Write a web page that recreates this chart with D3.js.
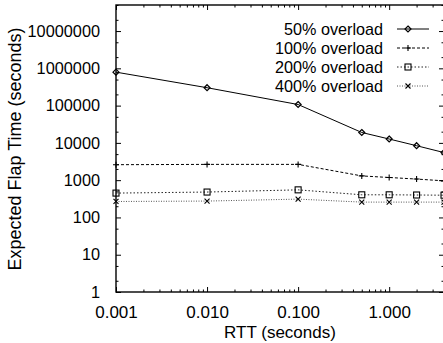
<!DOCTYPE html>
<html><head><meta charset="utf-8">
<script src="https://cdn.jsdelivr.net/npm/d3@7"></script>
<style>
html,body{margin:0;padding:0;background:#fff;}
svg{display:block;font-family:"Liberation Sans",Arial,Helvetica,sans-serif;}
</style></head>
<body><svg id="c" width="443" height="343"></svg>
<script>
const rtt = [0.001, 0.01, 0.1, 0.5, 1, 2, 4];
const overload50 = [790000, 302000, 107000, 19000, 12700, 8400, 5500];
const overload100 = [2600, 2650, 2650, 1300, 1180, 1070, 960];
const overload200 = [450, 480, 550, 405, 405, 400, 395];
const overload400 = [268, 275, 310, 258, 258, 258, 258];
const seriesNames = ["50% overload", "100% overload", "200% overload", "400% overload"];
const xTicks = [0.001, 0.01, 0.1, 1];
const xTickLabels = ["0.001", "0.010", "0.100", "1.000"];
const yTicks = [1, 10, 100, 1000, 10000, 100000, 1000000, 10000000];
const yTickLabels = ["1", "10", "100", "1000", "10000", "100000", "1000000", "10000000"];

const L = 116, R = 444, T = 5, B = 292;
const svg = d3.select("#c");
const x = d3.scaleLog().domain([0.001, 4]).range([L, R]);
const y = d3.scaleLog().domain([1, 5e7]).range([B, T]);

const xMinor = [];
for (let e = -3; e <= 0; e++) for (let k = 2; k <= 9; k++) { const v = k * Math.pow(10, e); if (v <= 4) xMinor.push(v); }
const yMinor = [];
for (let e = 0; e <= 7; e++) for (const k of [2, 5]) { const v = k * Math.pow(10, e); if (v <= 5e7) yMinor.push(v); }

function styleAxis(g) { g.select(".domain").remove(); g.selectAll("line").attr("stroke", "#000").attr("stroke-width", 1); }

svg.append("g").attr("transform", `translate(0,${B})`)
  .call(d3.axisBottom(x).tickValues(xTicks).tickSize(-5).tickPadding(14).tickFormat((d, i) => xTickLabels[i]))
  .call(styleAxis)
  .call(g => g.selectAll("text").attr("font-size", 17).attr("fill", "#000").attr("font-family", "Liberation Sans, Arial, sans-serif"));
svg.append("g").attr("transform", `translate(0,${B})`)
  .call(d3.axisBottom(x).tickValues(xMinor).tickSize(-2.5).tickFormat(""))
  .call(styleAxis);
svg.append("g").attr("transform", `translate(0,${T})`)
  .call(d3.axisTop(x).tickValues(xTicks).tickSize(-5).tickFormat(""))
  .call(styleAxis);
svg.append("g").attr("transform", `translate(0,${T})`)
  .call(d3.axisTop(x).tickValues(xMinor).tickSize(-2.5).tickFormat(""))
  .call(styleAxis);

svg.append("g").attr("transform", `translate(${L},0)`)
  .call(d3.axisLeft(y).tickValues(yTicks).tickSize(-5).tickPadding(16).tickFormat((d, i) => yTickLabels[i]))
  .call(styleAxis)
  .call(g => g.selectAll("text").attr("font-size", 16.3).attr("fill", "#000").attr("font-family", "Liberation Sans, Arial, sans-serif"));
svg.append("g").attr("transform", `translate(${L},0)`)
  .call(d3.axisLeft(y).tickValues(yMinor).tickSize(-2.5).tickFormat(""))
  .call(styleAxis);
svg.append("g").attr("transform", `translate(${R},0)`)
  .call(d3.axisRight(y).tickValues(yTicks).tickSize(-5).tickFormat(""))
  .call(styleAxis);
svg.append("g").attr("transform", `translate(${R},0)`)
  .call(d3.axisRight(y).tickValues(yMinor).tickSize(-2.5).tickFormat(""))
  .call(styleAxis);

svg.append("rect").attr("x", L).attr("y", T).attr("width", R - L).attr("height", B - T)
  .attr("fill", "none").attr("stroke", "#000").attr("stroke-width", 1.4);

const series = [
  { name: seriesNames[0], vals: overload50, dash: null, color: "#000", marker: "diamond" },
  { name: seriesNames[1], vals: overload100, dash: "3,2", color: "#000", marker: "plus" },
  { name: seriesNames[2], vals: overload200, dash: "1.5,2", color: "#222", marker: "square" },
  { name: seriesNames[3], vals: overload400, dash: "1,1.5", color: "#555", marker: "cross" },
];

function drawMarker(g, type, cx, cy) {
  if (type === "diamond") {
    g.append("path").attr("d", `M${cx},${cy - 3}L${cx + 3},${cy}L${cx},${cy + 3}L${cx - 3},${cy}Z`)
      .attr("fill", "none").attr("stroke", "#000").attr("stroke-width", 1.2);
  } else if (type === "plus") {
    g.append("path").attr("d", `M${cx - 3},${cy}H${cx + 3}M${cx},${cy - 3}V${cy + 3}`)
      .attr("stroke", "#000").attr("stroke-width", 1.1);
  } else if (type === "square") {
    g.append("rect").attr("x", cx - 3).attr("y", cy - 3).attr("width", 6).attr("height", 6)
      .attr("fill", "none").attr("stroke", "#000").attr("stroke-width", 1.1);
  } else {
    g.append("path").attr("d", `M${cx - 2.5},${cy - 2.5}L${cx + 2.5},${cy + 2.5}M${cx - 2.5},${cy + 2.5}L${cx + 2.5},${cy - 2.5}`)
      .attr("stroke", "#000").attr("stroke-width", 1.1);
  }
}

const plot = svg.append("g");
const line = d3.line().x(d => x(d[0])).y(d => y(d[1]));
series.forEach(s => {
  const pts = rtt.map((r, i) => [r, s.vals[i]]);
  plot.append("path").attr("d", line(pts)).attr("fill", "none").attr("stroke", s.color)
    .attr("stroke-width", 1).attr("stroke-dasharray", s.dash);
  pts.forEach(p => drawMarker(plot, s.marker, x(p[0]), y(p[1])));
});

const leg = svg.append("g");
series.forEach((s, i) => {
  const ly = 29 + i * 19;
  leg.append("text").attr("x", 383).attr("y", ly).attr("dy", "0.35em").attr("text-anchor", "end")
    .attr("font-size", 16.2).attr("fill", "#000").text(s.name);
  leg.append("line").attr("x1", 397).attr("x2", 429).attr("y1", ly).attr("y2", ly)
    .attr("stroke", s.color).attr("stroke-width", 1).attr("stroke-dasharray", s.dash);
  drawMarker(leg, s.marker, 408, ly);
});

svg.append("text").attr("x", 280).attr("y", 338).attr("text-anchor", "middle")
  .attr("font-size", 17).attr("fill", "#000").text("RTT (seconds)");
svg.append("text").attr("transform", "translate(21,149) rotate(-90)").attr("text-anchor", "middle")
  .attr("font-size", 18).attr("fill", "#000").text("Expected Flap Time (seconds)");
</script></body></html>
